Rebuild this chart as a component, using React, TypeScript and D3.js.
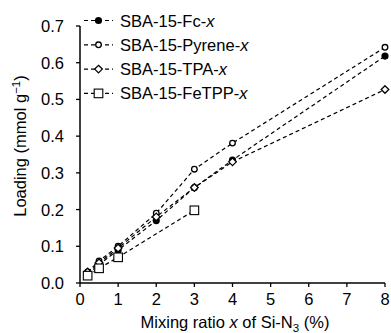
import React from 'react';
import * as d3 from 'd3';

const xs = [0.2, 0.5, 1, 2, 3, 4, 8];
const fc = [0.025, 0.05, 0.09, 0.17, 0.26, 0.335, 0.618];
const pyrene = [0.03, 0.06, 0.1, 0.19, 0.31, 0.381, 0.642];
const tpa = [0.03, 0.055, 0.095, 0.18, 0.26, 0.33, 0.527];
const fetppX = [0.2, 0.5, 1, 3];
const fetpp = [0.02, 0.04, 0.07, 0.198];

const xTicks = [0, 1, 2, 3, 4, 5, 6, 7, 8];
const yTicks = [0, 0.1, 0.2, 0.3, 0.4, 0.5, 0.6, 0.7];

const series = [
  { name: 'SBA-15-Fc-', xv: xs, yv: fc, marker: 'fcircle' },
  { name: 'SBA-15-Pyrene-', xv: xs, yv: pyrene, marker: 'ocircle' },
  { name: 'SBA-15-TPA-', xv: xs, yv: tpa, marker: 'diamond' },
  { name: 'SBA-15-FeTPP-', xv: fetppX, yv: fetpp, marker: 'square' },
];

const font = 'Liberation Sans, Arial, Helvetica, sans-serif';

const Marker = ({ type, cx, cy }: { type: string; cx: number; cy: number }) => {
  if (type === 'fcircle') return <circle cx={cx} cy={cy} r={3.6} fill="#000" />;
  if (type === 'ocircle') return <circle cx={cx} cy={cy} r={2.8} fill="#fff" stroke="#000" strokeWidth={1.3} />;
  if (type === 'diamond')
    return (
      <path
        d={`M${cx},${cy - 3.8}L${cx + 3.8},${cy}L${cx},${cy + 3.8}L${cx - 3.8},${cy}Z`}
        fill="#fff"
        stroke="#000"
        strokeWidth={1.3}
      />
    );
  return <rect x={cx - 4.3} y={cy - 4.3} width={8.6} height={8.6} fill="#fff" stroke="#000" strokeWidth={1.1} />;
};

export default function App() {
  const width = 391;
  const height = 333;
  const x = d3.scaleLinear().domain([0, 8]).range([80, 385]);
  const y = d3.scaleLinear().domain([0, 0.7]).range([283, 26]);
  const line = d3.line<[number, number]>().x(d => x(d[0])).y(d => y(d[1]));

  return (
    <svg width={width} height={height} style={{ position: 'absolute', left: 0, top: 0 }} fontFamily={font}>
      {series.map(s => (
        <path
          key={s.name}
          d={line(s.xv.map((v, i) => [v, s.yv[i]] as [number, number])) || ''}
          fill="none"
          stroke="#000"
          strokeWidth={1.2}
          strokeDasharray="4,3"
        />
      ))}
      {series.map(s =>
        s.xv.map((v, i) => <Marker key={s.name + i} type={s.marker} cx={x(v)} cy={y(s.yv[i])} />)
      )}
      {/* axes */}
      <line x1={x(0)} x2={x(8)} y1={y(0)} y2={y(0)} stroke="#000" strokeWidth={1.5} />
      <line x1={x(0)} x2={x(0)} y1={y(0)} y2={y(0.7)} stroke="#000" strokeWidth={1.5} />
      {xTicks.map(t => (
        <g key={'x' + t}>
          <line x1={x(t)} x2={x(t)} y1={y(0)} y2={y(0) + 4} stroke="#000" strokeWidth={1.3} />
          <text x={x(t)} y={y(0) + 22} textAnchor="middle" fontSize={16.5}>
            {t}
          </text>
        </g>
      ))}
      {yTicks.map(t => (
        <g key={'y' + t}>
          <line x1={x(0) - 4} x2={x(0)} y1={y(t)} y2={y(t)} stroke="#000" strokeWidth={1.3} />
          <text x={x(0) - 16} y={y(t) + 6} textAnchor="end" fontSize={16.5}>
            {t.toFixed(1)}
          </text>
        </g>
      ))}
      <text x={235} y={328} textAnchor="middle" fontSize={16.5}>
        Mixing ratio <tspan fontStyle="italic">x</tspan> of Si-N
        <tspan fontSize={11.5} dy={4}>3</tspan>
        <tspan dy={-4}> (%)</tspan>
      </text>
      <text transform={`translate(26,146) rotate(-90)`} textAnchor="middle" fontSize={16.5}>
        Loading (mmol g<tspan fontSize={11.5} dy={-6}>−1</tspan>
        <tspan dy={6}>)</tspan>
      </text>
      {/* legend */}
      {series.map((s, i) => {
        const ly = 20.5 + i * 24.3;
        return (
          <g key={'leg' + s.name}>
            <line x1={84} x2={113} y1={ly} y2={ly} stroke="#000" strokeWidth={1.2} strokeDasharray="4,3" />
            <Marker type={s.marker} cx={98.5} cy={ly} />
            <text x={120} y={ly + 6} fontSize={16.5}>
              {s.name}
              <tspan fontStyle="italic">x</tspan>
            </text>
          </g>
        );
      })}
    </svg>
  );
}
